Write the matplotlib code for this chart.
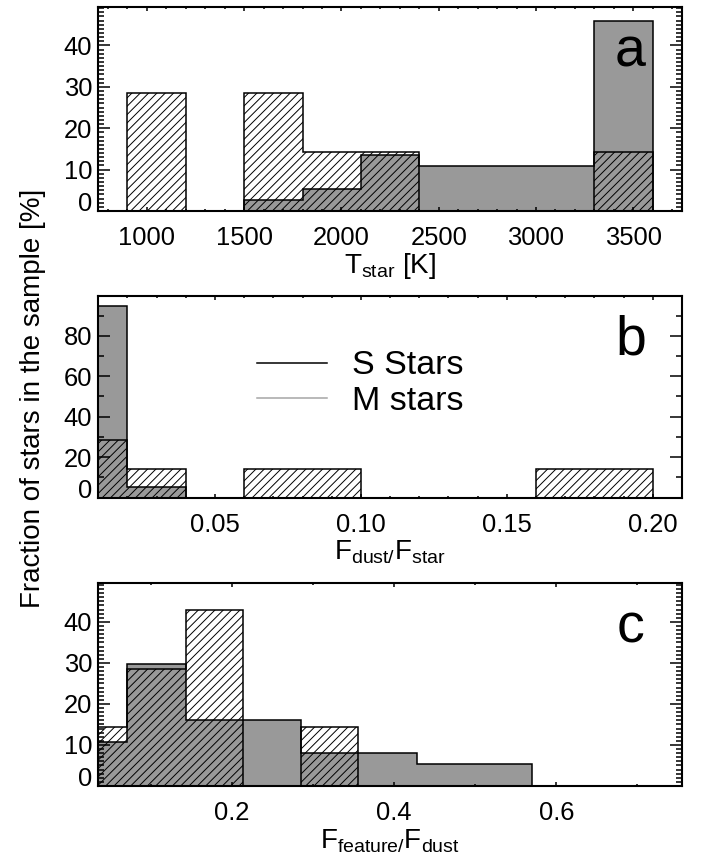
import matplotlib
matplotlib.use("Agg")
import matplotlib.pyplot as plt
from matplotlib.ticker import MultipleLocator
from matplotlib.lines import Line2D

plt.rcParams['font.family'] = ['Liberation Sans', 'DejaVu Sans']
plt.rcParams['mathtext.fontset'] = 'custom'
plt.rcParams['mathtext.rm'] = 'Liberation Sans'
plt.rcParams['mathtext.it'] = 'Liberation Sans:italic'
plt.rcParams['hatch.linewidth'] = 0.7

# panel a: stellar temperature histogram (percent of stars)
t_edges = [900, 1200, 1500, 1800, 2100, 2400, 2700, 3000, 3300, 3600]
t_s_stars = [28.6, 0, 28.6, 14.3, 14.3, 0, 0, 0, 14.3]
t_m_stars = [0, 0, 2.7, 5.4, 13.5, 10.8, 10.8, 10.8, 45.9]

# panel b: F_dust / F_star
f_edges = [0.0, 0.02, 0.04, 0.06, 0.08, 0.10, 0.12, 0.14, 0.16, 0.18, 0.20]
f_s_stars = [28.6, 14.3, 0, 14.3, 14.3, 0, 0, 0, 14.3, 14.3]
f_m_stars = [94.6, 5.4, 0, 0, 0, 0, 0, 0, 0, 0]

# panel c: F_feature / F_dust
r_edges = [0.0, 0.071, 0.143, 0.214, 0.285, 0.356, 0.428, 0.499, 0.570]
r_s_stars = [14.3, 28.6, 42.9, 0, 14.3, 0, 0, 0]
r_m_stars = [10.8, 29.7, 16.2, 16.2, 8.1, 8.1, 5.4, 5.4]

GRAY = '#999999'
TICK_FS = 18.4


def draw_panel(ax, edges, s_vals, m_vals):
    # M stars: gray fill with black step outline
    ax.stairs(m_vals, edges, baseline=0, fill=True, facecolor=GRAY,
              edgecolor='none', linewidth=0, zorder=1)
    ax.stairs(m_vals, edges, baseline=0, color='black', linewidth=1.1, zorder=2)
    # S stars: hatched, no face
    ax.stairs(s_vals, edges, baseline=0, fill=True, hatch='////',
              facecolor='none', edgecolor='black', linewidth=1.1, zorder=3)


def style_axes(ax, xlim, ylim, xmajor, xminor, yticks, yminor, xtick_fmt):
    ax.set_xlim(*xlim)
    ax.set_ylim(*ylim)
    ax.xaxis.set_major_locator(MultipleLocator(xmajor))
    ax.xaxis.set_minor_locator(MultipleLocator(xminor))
    ax.set_yticks(yticks)
    ax.yaxis.set_minor_locator(MultipleLocator(yminor))
    ax.xaxis.set_major_formatter(plt.FuncFormatter(lambda v, p: xtick_fmt.format(v)))
    ax.tick_params(axis='both', which='both', direction='in',
                   top=True, right=True, labelsize=TICK_FS, width=1.1)
    ax.tick_params(axis='x', which='major', length=2.9, pad=11)
    ax.tick_params(axis='x', which='minor', length=1.5)
    ax.tick_params(axis='y', which='major', length=8.4, pad=4.5)
    ax.tick_params(axis='y', which='minor', length=4.2)
    for sp in ax.spines.values():
        sp.set_linewidth(1.5)
    ax.yaxis.get_major_ticks()[0].label1.set_verticalalignment('baseline')


fig = plt.figure(figsize=(7.04, 8.61), dpi=100)
left, width = 0.1396, 0.829
ax_a = fig.add_axes([left, 0.7549, width, 0.2366])
ax_b = fig.add_axes([left, 0.4220, width, 0.2346])
ax_c = fig.add_axes([left, 0.0871, width, 0.2354])

draw_panel(ax_a, t_edges, t_s_stars, t_m_stars)
style_axes(ax_a, (750, 3750), (0, 49.2), 500, 100, [0, 10, 20, 30, 40], 1, '{:.0f}')

draw_panel(ax_b, f_edges, f_s_stars, f_m_stars)
style_axes(ax_b, (0.01, 0.21), (0, 99.8), 0.05, 0.01, [0, 20, 40, 60, 80], 10, '{:.2f}')

draw_panel(ax_c, r_edges, r_s_stars, r_m_stars)
style_axes(ax_c, (0.035, 0.755), (0, 49.4), 0.2, 0.1, [0, 10, 20, 30, 40], 1, '{:.1f}')

xlabels = [r'T$_{\mathrm{star}}$ [K]',
           r'F$_{\mathrm{dust/}}$F$_{\mathrm{star}}$',
           r'F$_{\mathrm{feature/}}$F$_{\mathrm{dust}}$']
letters = ['a', 'b', 'c']
for ax, lab, let in zip([ax_a, ax_b, ax_c], xlabels, letters):
    ax.text(0.5, -0.306, lab, transform=ax.transAxes, ha='center',
            va='baseline', fontsize=20)
    ax.text(0.912, 0.71, let, transform=ax.transAxes, ha='center',
            va='baseline', fontsize=40)

handles = [Line2D([], [], color='black', linewidth=1.1),
           Line2D([], [], color='#a6a6a6', linewidth=1.1)]
ax_b.legend(handles, ['S Stars', 'M stars'], loc='center left',
            bbox_to_anchor=(0.272, 0.565), frameon=False, fontsize=24.5,
            handlelength=2.05, handletextpad=0.75, labelspacing=0.12,
            borderpad=0, borderaxespad=0)

fig.text(33 / 704, 1 - 398 / 861, 'Fraction of stars in the sample [%]',
         rotation=90, ha='center', va='center', fontsize=20)

fig.savefig('out.png', dpi=100)
